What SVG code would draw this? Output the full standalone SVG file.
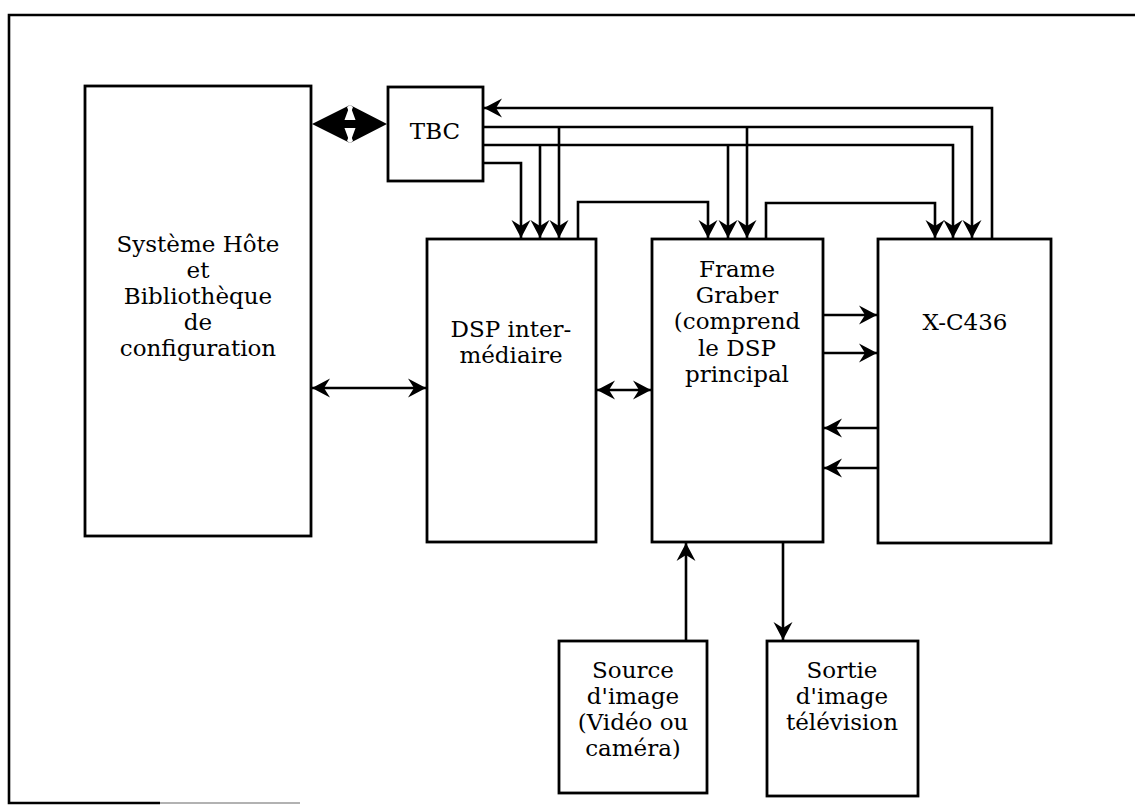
<svg xmlns="http://www.w3.org/2000/svg" width="1135" height="809" viewBox="0 0 1135 809">
<style>
.box{fill:#fff;stroke:#000;stroke-width:2.8}
.t{font-family:"DejaVu Serif","Liberation Serif",serif;font-size:23px;fill:#000;text-anchor:middle}
.c{fill:none;stroke:#000;stroke-width:2.6}
</style>
<defs>
<marker id="ah" viewBox="-19 -10 19 20" refX="0" refY="0" markerWidth="19" markerHeight="20" orient="auto-start-reverse" markerUnits="userSpaceOnUse">
<path d="M0,0 L-18,-9.5 L-12,0 L-18,9.5 Z" fill="#000"/>
</marker>
</defs>
<rect width="1135" height="809" fill="#fff"/>
<g id="frame" fill="none" stroke="#000" stroke-width="2.6">
<path d="M1135,15 H9 V803 H160"/>
<path d="M160,803 H300" stroke="#999" stroke-width="1.5"/>
</g>
<g id="host"><rect class="box" x="85" y="86" width="226" height="450"/>
<text class="t" x="198" y="252">Système Hôte</text>
<text class="t" x="198" y="278">et</text>
<text class="t" x="198" y="304">Bibliothèque</text>
<text class="t" x="198" y="330">de</text>
<text class="t" x="198" y="356">configuration</text></g>
<g id="tbc"><rect class="box" x="388" y="87" width="95" height="94"/>
<text class="t" x="435" y="139">TBC</text></g>
<g id="dsp"><rect class="box" x="427" y="239" width="169" height="303"/>
<text class="t" x="511" y="337">DSP inter-</text>
<text class="t" x="511" y="363">médiaire</text></g>
<g id="fg"><rect class="box" x="652" y="239" width="171" height="303"/>
<text class="t" x="737" y="277">Frame</text>
<text class="t" x="737" y="303">Graber</text>
<text class="t" x="737" y="329">(comprend</text>
<text class="t" x="737" y="356">le DSP</text>
<text class="t" x="737" y="382">principal</text></g>
<g id="xc436"><rect class="box" x="878" y="239" width="173" height="304"/>
<text class="t" x="965" y="330">X-C436</text></g>
<g id="source"><rect class="box" x="559" y="641" width="148" height="152"/>
<text class="t" x="633" y="678">Source</text>
<text class="t" x="633" y="704">d'image</text>
<text class="t" x="633" y="730">(Vidéo ou</text>
<text class="t" x="633" y="756">caméra)</text></g>
<g id="sortie"><rect class="box" x="767" y="641" width="151" height="155"/>
<text class="t" x="842" y="678">Sortie</text>
<text class="t" x="842" y="704">d'image</text>
<text class="t" x="842" y="730">télévision</text></g>
<g id="connectors">
<g fill="#000">
<polygon points="312,124 350,105 343,124 350,143"/>
<polygon points="387,124 350,105 357,124 350,143"/>
<rect x="335" y="120" width="30" height="8"/>
<path d="M347,107 L350,105 L353,107 L350,115 Z M347,141 L350,143 L353,141 L350,133 Z" fill="#fff"/>
</g>
<path class="c" marker-end="url(#ah)" d="M992,239 V108 H484"/>
<path class="c" marker-end="url(#ah)" d="M483,127 H972 V238"/>
<path class="c" marker-end="url(#ah)" d="M559,127 V238"/>
<path class="c" marker-end="url(#ah)" d="M747,127 V238"/>
<path class="c" marker-end="url(#ah)" d="M483,145 H953 V238"/>
<path class="c" marker-end="url(#ah)" d="M540,145 V238"/>
<path class="c" marker-end="url(#ah)" d="M728,145 V238"/>
<path class="c" marker-end="url(#ah)" d="M483,163 H521 V238"/>
<path class="c" marker-end="url(#ah)" d="M578,239 V202 H708 V238"/>
<path class="c" marker-end="url(#ah)" d="M766,239 V203 H935 V238"/>
<path class="c" marker-start="url(#ah)" marker-end="url(#ah)" d="M312,388 H426"/>
<path class="c" marker-start="url(#ah)" marker-end="url(#ah)" d="M597,390 H651"/>
<path class="c" marker-end="url(#ah)" d="M823,315 H877"/>
<path class="c" marker-end="url(#ah)" d="M823,353 H877"/>
<path class="c" marker-end="url(#ah)" d="M878,428 H824"/>
<path class="c" marker-end="url(#ah)" d="M878,468 H824"/>
<path class="c" marker-end="url(#ah)" d="M686,641 V543"/>
<path class="c" marker-end="url(#ah)" d="M783,542 V640"/>
</g>
</svg>
